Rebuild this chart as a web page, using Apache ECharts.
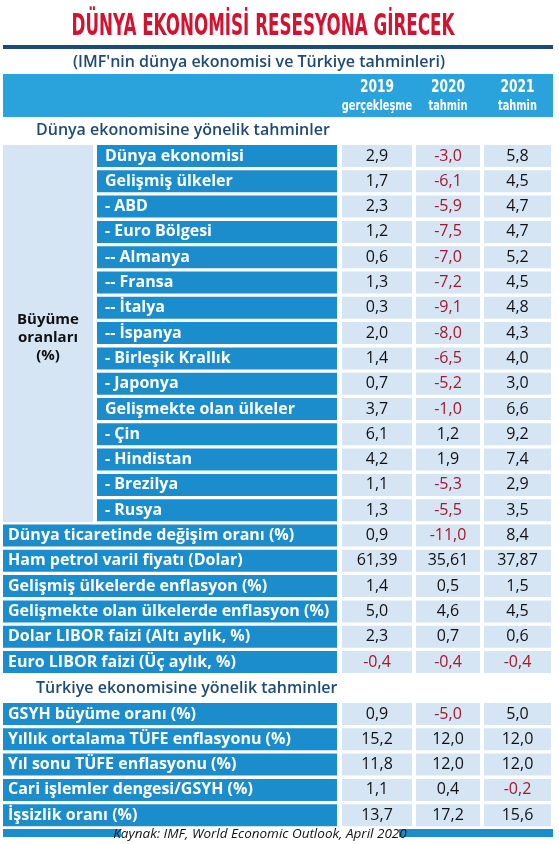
<!DOCTYPE html>
<html>
<head>
<meta charset="utf-8">
<script src="https://cdn.jsdelivr.net/npm/echarts@6/dist/echarts.min.js"></script>
<style>html,body{margin:0;padding:0;background:#fff}#chart{width:559px;height:844px}</style>
</head>
<body>
<div id="chart"></div>
<script>
// tablo verileri
const worldLabels = ['Dünya ekonomisi','Gelişmiş ülkeler','- ABD','- Euro Bölgesi','-- Almanya','-- Fransa','-- İtalya','-- İspanya','- Birleşik Krallık','- Japonya','Gelişmekte olan ülkeler','- Çin','- Hindistan','- Brezilya','- Rusya',
  'Dünya ticaretinde değişim oranı (%)','Ham petrol varil fiyatı (Dolar)','Gelişmiş ülkelerde enflasyon (%)','Gelişmekte olan ülkelerde enflasyon (%)','Dolar LIBOR faizi (Altı aylık, %)','Euro LIBOR faizi (Üç aylık, %)'];
const world2019 = ['2,9','1,7','2,3','1,2','0,6','1,3','0,3','2,0','1,4','0,7','3,7','6,1','4,2','1,1','1,3','0,9','61,39','1,4','5,0','2,3','-0,4'];
const world2020 = ['-3,0','-6,1','-5,9','-7,5','-7,0','-7,2','-9,1','-8,0','-6,5','-5,2','-1,0','1,2','1,9','-5,3','-5,5','-11,0','35,61','0,5','4,6','0,7','-0,4'];
const world2021 = ['5,8','4,5','4,7','4,7','5,2','4,5','4,8','4,3','4,0','3,0','6,6','9,2','7,4','2,9','3,5','8,4','37,87','1,5','4,5','0,6','-0,4'];
const trLabels = ['GSYH büyüme oranı (%)','Yıllık ortalama TÜFE enflasyonu (%)','Yıl sonu TÜFE enflasyonu (%)','Cari işlemler dengesi/GSYH (%)','İşsizlik oranı (%)'];
const tr2019 = ['0,9','15,2','11,8','1,1','13,7'];
const tr2020 = ['-5,0','12,0','12,0','0,4','17,2'];
const tr2021 = ['5,0','12,0','12,0','-0,2','15,6'];
const colYears = ['2019', '2020', '2021'];
const colSubs = ['gerçekleşme', 'tahmin', 'tahmin'];

const BLUE = '#1b8ccc', LIGHT = '#d5e5f4', RED = '#a3192b', NAVY = '#1d4a78';
const PITCH = 25.3, RH = 22;
const valCols = [[342, 412], [416, 480], [484, 551]];
const FONT = '"Open Sans", sans-serif';
const COND = '"DejaVu Sans Condensed", sans-serif';

const rows = [];
worldLabels.forEach((l, i) => rows.push({y: 156 + i * PITCH, label: l, sub: i < 15, v: [world2019[i], world2020[i], world2021[i]]}));
trLabels.forEach((l, i) => rows.push({y: 714 + i * PITCH, label: l, sub: false, v: [tr2019[i], tr2020[i], tr2021[i]]}));

const chart = echarts.init(document.getElementById('chart'));
chart.setOption({
  animation: false,
  grid: {left: 0, right: 0, top: 0, bottom: 0},
  xAxis: {type: 'value', min: 0, max: 559, show: false},
  yAxis: {type: 'value', min: 0, max: 844, inverse: true, show: false},
  graphic: [
    {type: 'text', x: 263, y: 27, scaleX: 0.6, style: {text: 'DÜNYA EKONOMİSİ RESESYONA GİRECEK', fill: '#d3122f', font: 'bold 31px ' + COND, align: 'center', verticalAlign: 'middle'}},
    {type: 'rect', shape: {x: 3, y: 45, width: 550, height: 4}, style: {fill: NAVY}},
    {type: 'text', x: 259, y: 62, style: {text: "(IMF'nin dünya ekonomisi ve Türkiye tahminleri)", fill: NAVY, font: '600 16px ' + FONT, align: 'center', verticalAlign: 'middle'}},
    {type: 'rect', shape: {x: 3, y: 74, width: 550, height: 43}, style: {fill: '#2aa2dc'}},
    ...colYears.map((t, i) => ({type: 'text', x: (valCols[i][0] + valCols[i][1]) / 2, y: 88, scaleX: 0.8,
      style: {text: t, fill: '#fff', font: 'bold 17px ' + COND, align: 'center', verticalAlign: 'middle'}})),
    ...colSubs.map((t, i) => ({type: 'text', x: (valCols[i][0] + valCols[i][1]) / 2, y: 106, scaleX: 0.78,
      style: {text: t, fill: '#fff', font: 'bold 14px ' + COND, align: 'center', verticalAlign: 'middle'}})),
    {type: 'text', x: 36, y: 130, style: {text: 'Dünya ekonomisine yönelik tahminler', fill: NAVY, font: '600 16px ' + FONT, verticalAlign: 'middle'}},
    {type: 'text', x: 36, y: 688, style: {text: 'Türkiye ekonomisine yönelik tahminler', fill: NAVY, font: '600 16px ' + FONT, verticalAlign: 'middle'}},
    {type: 'rect', shape: {x: 3, y: 145, width: 90, height: 377}, style: {fill: LIGHT}},
    {type: 'text', x: 48, y: 338, style: {text: 'Büyüme\noranları\n(%)', fill: '#111', font: 'bold 15px ' + FONT, align: 'center', verticalAlign: 'middle', lineHeight: 18}},
    {type: 'rect', shape: {x: 3, y: 829, width: 550, height: 8}, style: {fill: BLUE}},
    {type: 'rect', shape: {x: 121, y: 828, width: 278, height: 16}, style: {fill: '#fff'}},
    {type: 'text', x: 260, y: 834, style: {text: 'Kaynak: IMF, World Economic Outlook, April 2020', fill: '#111', font: 'italic 13.5px ' + FONT, align: 'center', verticalAlign: 'middle'}}
  ],
  series: [{
    type: 'custom',
    data: rows.map((r, i) => [i, r.y]),
    renderItem: function (params, api) {
      const r = rows[api.value(0)];
      const [, cy] = api.coord([0, api.value(1)]);
      const x0 = r.sub ? 97 : 3;
      const ch = [
        {type: 'rect', shape: {x: x0, y: cy - RH / 2, width: 337 - x0, height: RH}, style: {fill: BLUE}},
        {type: 'text', x: x0 + (r.sub ? 8 : 5), y: cy, style: {text: r.label, fill: '#fff', font: 'bold 16px ' + FONT, verticalAlign: 'middle'}}
      ];
      valCols.forEach((c, k) => {
        const s = r.v[k];
        ch.push({type: 'rect', shape: {x: c[0], y: cy - RH / 2, width: c[1] - c[0], height: RH}, style: {fill: LIGHT}});
        ch.push({type: 'text', x: (c[0] + c[1]) / 2, y: cy, style: {text: s, fill: s[0] === '-' ? RED : '#111', font: '16px ' + FONT, align: 'center', verticalAlign: 'middle'}});
      });
      return {type: 'group', children: ch};
    }
  }]
});
</script>
</body>
</html>
